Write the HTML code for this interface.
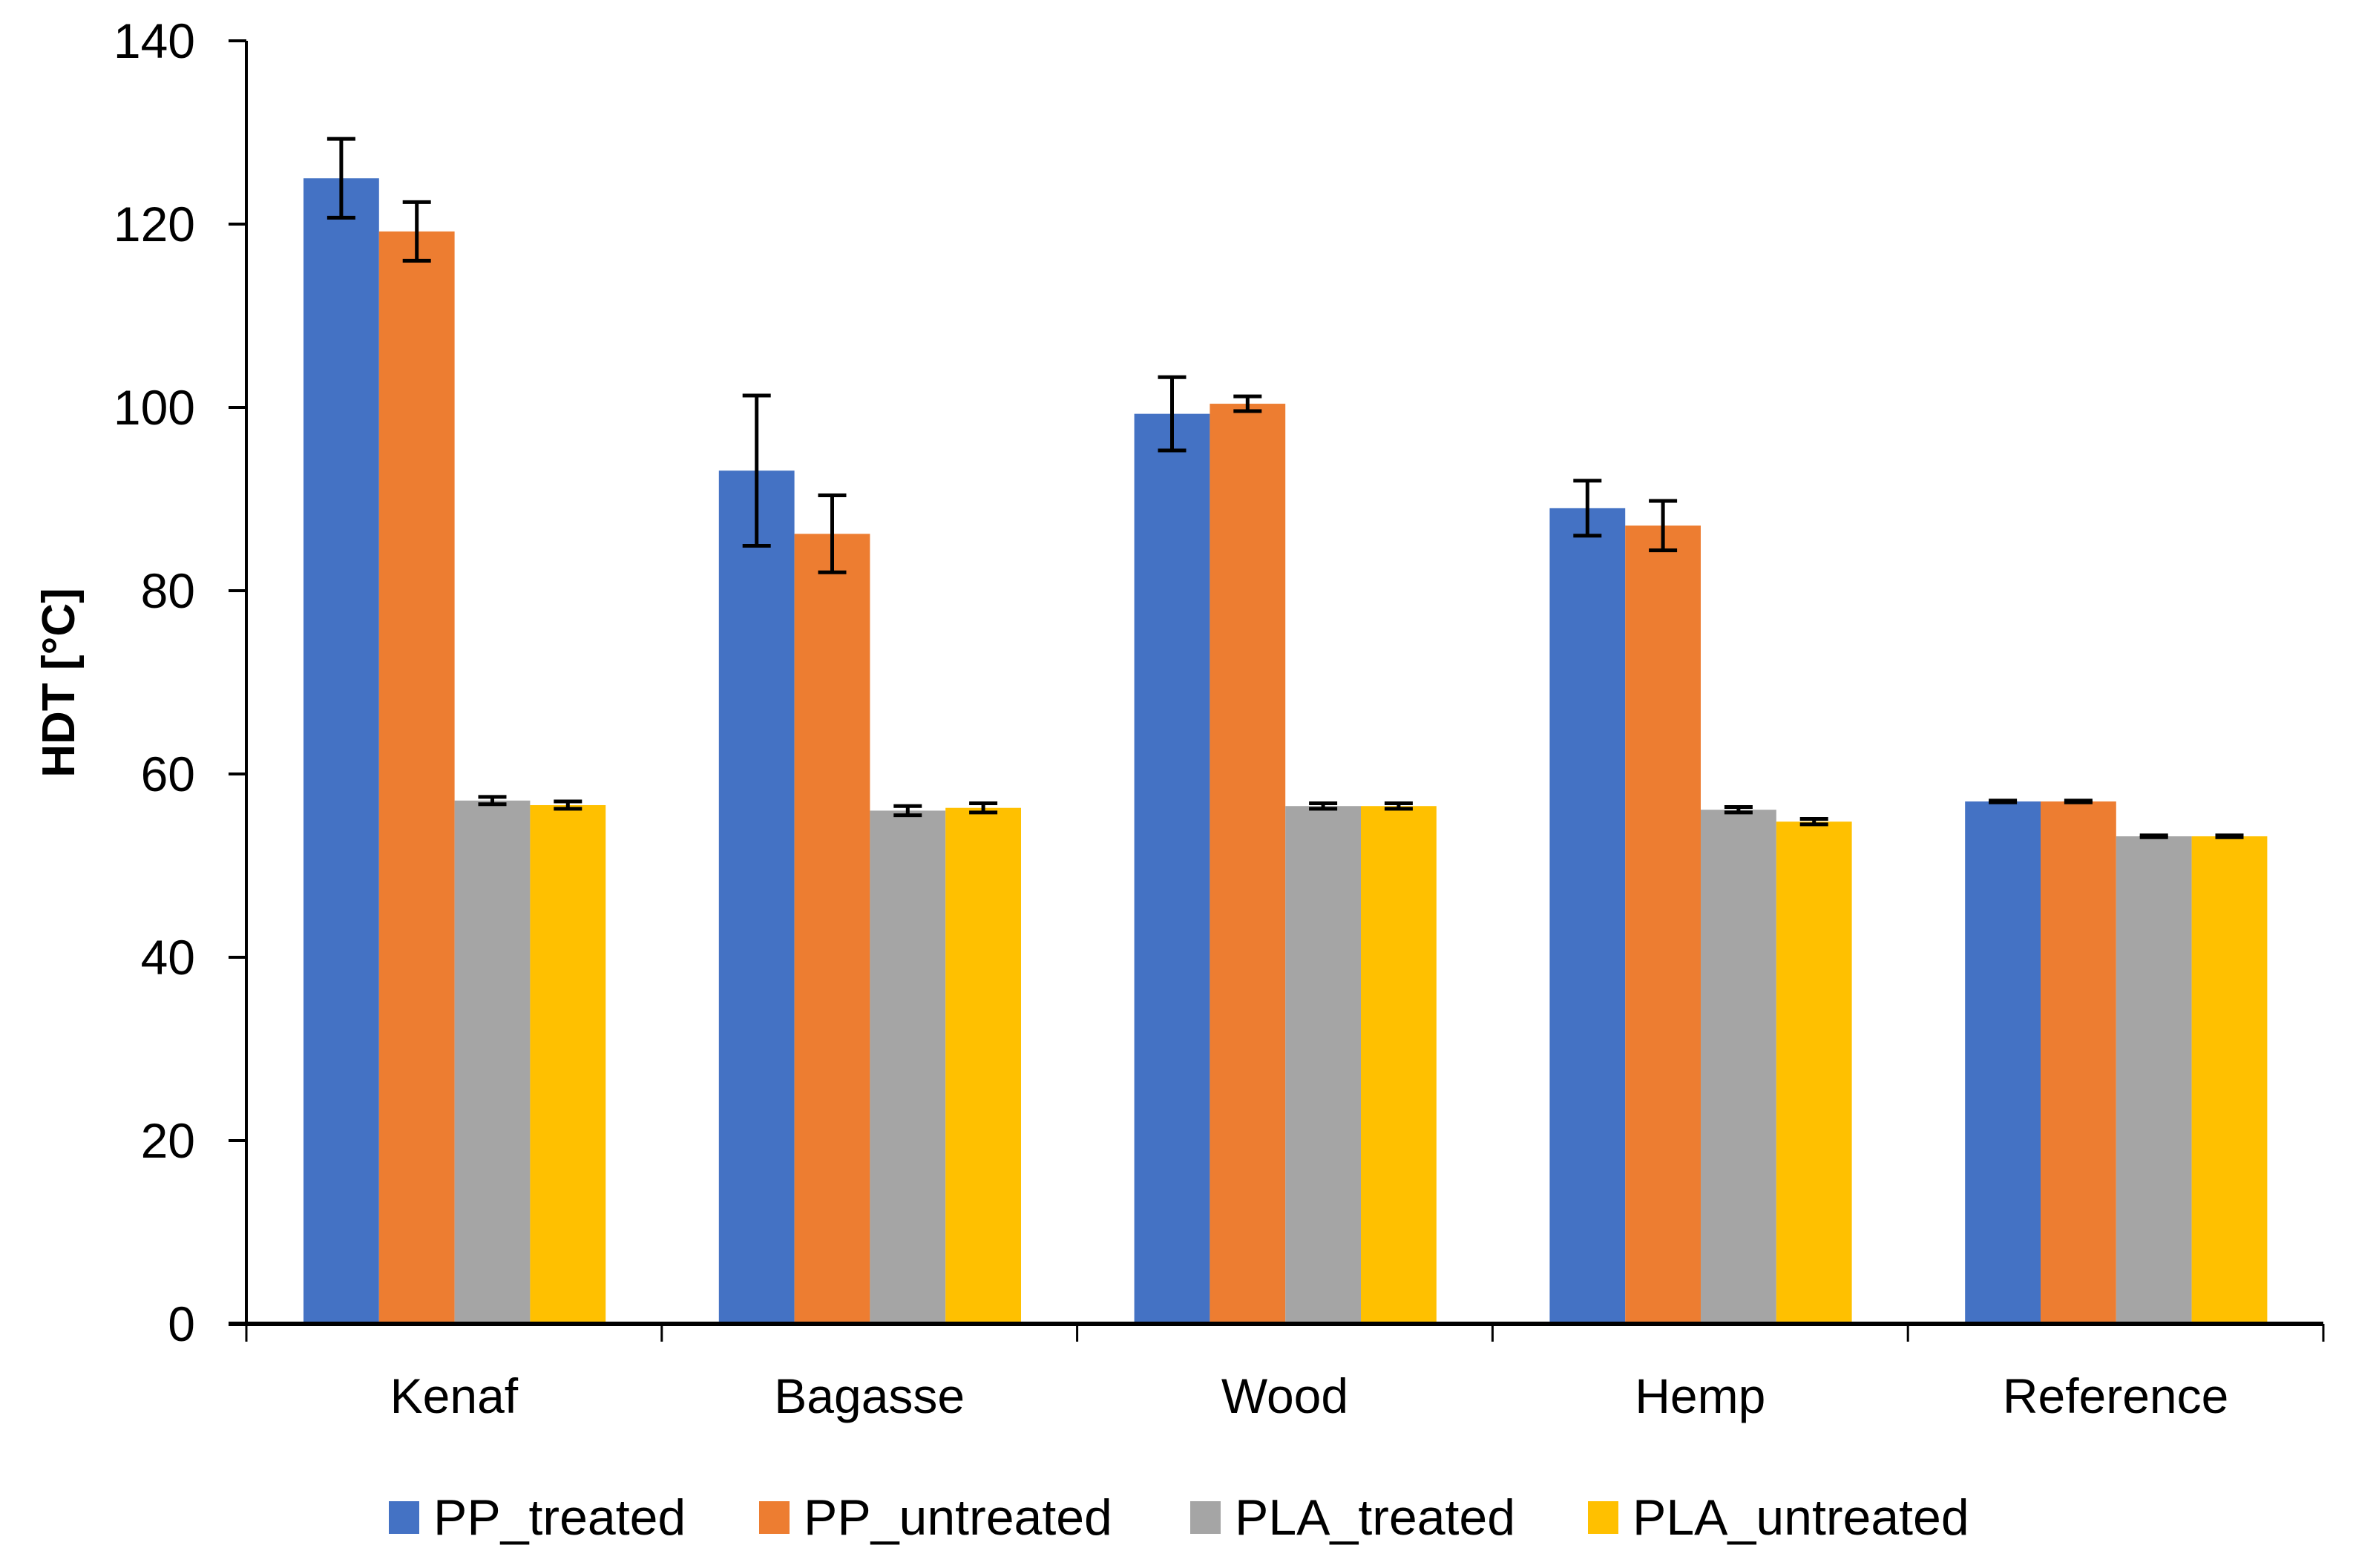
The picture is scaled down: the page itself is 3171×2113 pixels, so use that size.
<!DOCTYPE html>
<html><head><meta charset="utf-8"><style>
html,body{margin:0;padding:0;background:#fff;}
svg{display:block;font-family:"Liberation Sans",sans-serif;}
</style></head><body>
<svg id="chart" width="3171" height="2113" viewBox="0 0 3171 2113" xmlns="http://www.w3.org/2000/svg">
<rect width="3171" height="2113" fill="#fff"/>
<g id="bars"></g>
<g id="axes"></g>
<text transform="translate(100,920) rotate(-90)" text-anchor="middle" font-size="62" font-weight="bold">HDT [°C]</text>
<g id="legend"></g>
</svg>
<script>
const categories = ["Kenaf","Bagasse","Wood","Hemp","Reference"];
const seriesNames = ["PP_treated","PP_untreated","PLA_treated","PLA_untreated"];
const ppTreated = [125,93.1,99.3,89,57];
const ppUntreated = [119.2,86.2,100.4,87.1,57];
const plaTreated = [57.1,56,56.5,56.1,53.2];
const plaUntreated = [56.6,56.3,56.5,54.8,53.2];
const ppTreatedErr = [4.3,8.2,4,3,0.1];
const ppUntreatedErr = [3.2,4.2,0.8,2.7,0.1];
const plaTreatedErr = [0.4,0.5,0.3,0.3,0.1];
const plaUntreatedErr = [0.4,0.5,0.3,0.3,0.1];
const yTicks = [0,20,40,60,80,100,120,140];
const colors = ["#4472C4","#ED7D31","#A5A5A5","#FFC000"];

const NS="http://www.w3.org/2000/svg";
const X0=332, X1=3131, Y0=1784, Y1=55, YMAX=140;
const catW=(X1-X0)/categories.length, barW=101.8, groupOff=77;
function y(v){return Y0-(v/YMAX)*(Y0-Y1);}
function xBar(c,s){return X0+c*catW+groupOff+s*barW;}
function mk(tag,attrs,parent){const e=document.createElementNS(NS,tag);for(const k in attrs)e.setAttribute(k,attrs[k]);parent.appendChild(e);return e;}
const bars=document.getElementById('bars'), axes=document.getElementById('axes'), legend=document.getElementById('legend');
const series=[ppTreated,ppUntreated,plaTreated,plaUntreated];
const errs=[ppTreatedErr,ppUntreatedErr,plaTreatedErr,plaUntreatedErr];
series.forEach((vals,s)=>{
  vals.forEach((v,c)=>{
    const r=mk('rect',{x:xBar(c,s),y:y(v),width:barW,height:Y0-y(v),fill:colors[s]},bars);
    
    
  });
});
series.forEach((vals,s)=>{
  vals.forEach((v,c)=>{
    const cx=xBar(c,s)+barW/2, e=errs[s][c];
    const g=mk('g',{stroke:'#000','stroke-width':5,fill:'none'},bars);
    
    
    mk('line',{x1:cx,x2:cx,y1:y(v+e),y2:y(v-e)},g);
    mk('line',{x1:cx-19,x2:cx+19,y1:y(v+e),y2:y(v+e)},g);
    mk('line',{x1:cx-19,x2:cx+19,y1:y(v-e),y2:y(v-e)},g);
  });
});
// axes
const ya=mk('line',{x1:X0,x2:X0,y1:Y1,y2:Y0,stroke:'#000','stroke-width':4},axes);


yTicks.forEach(t=>{
  mk('line',{x1:X0-24,x2:X0,y1:y(t),y2:y(t),stroke:'#000','stroke-width':4},axes);
  const tx=mk('text',{x:263,y:y(t)+23,'text-anchor':'end','font-size':66},axes);
  tx.textContent=t;
  
  
});
const xa=mk('line',{x1:X0-24,x2:X1,y1:Y0,y2:Y0,stroke:'#000','stroke-width':6},axes);


for(let i=0;i<=categories.length;i++){
  mk('line',{x1:X0+i*catW,x2:X0+i*catW,y1:Y0,y2:Y0+24,stroke:'#000','stroke-width':3},axes);
}
categories.forEach((c,i)=>{
  const tx=mk('text',{x:X0+(i+0.5)*catW,y:1904,'text-anchor':'middle','font-size':66},axes);
  tx.textContent=c;
  
  
});
// legend
const sw=[524,1023,1604,2140];
seriesNames.forEach((n,i)=>{
  const r=mk('rect',{x:sw[i],y:2023,width:41,height:44,fill:colors[i]},legend);
  
  
  const tx=mk('text',{x:sw[i]+60,y:2068,'font-size':68},legend);
  tx.textContent=n;
  
  
});
</script>
</body></html>
